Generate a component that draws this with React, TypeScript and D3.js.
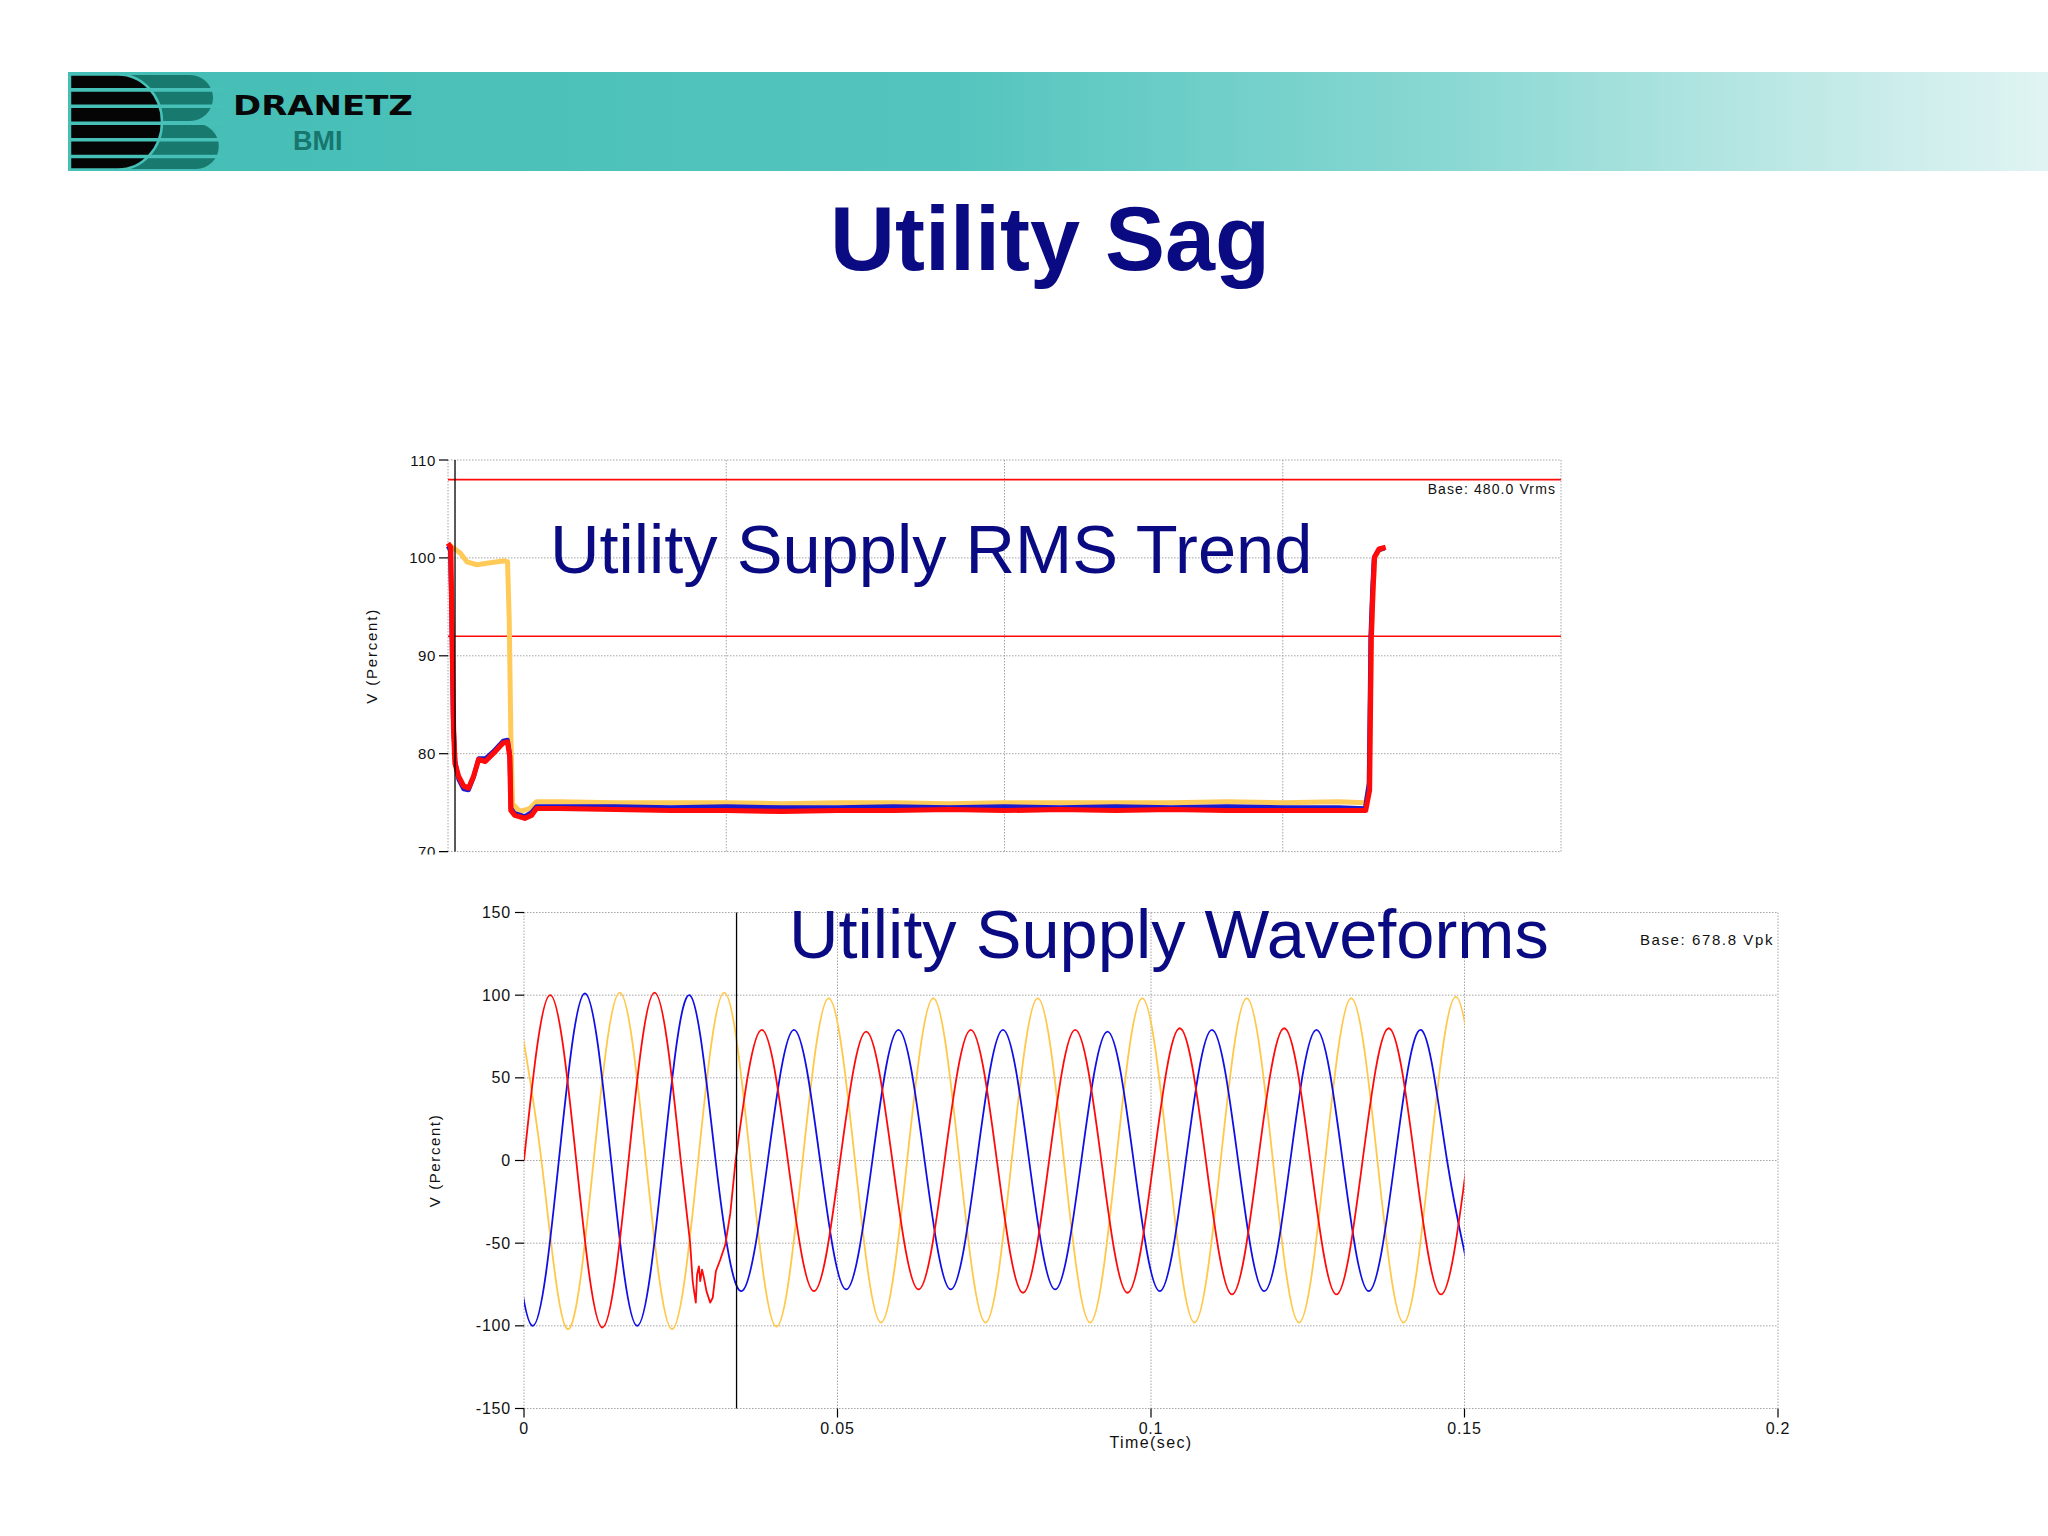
import React from 'react';
import * as d3 from 'd3';

type Pt = [number, number];

// ---------------- Slide texts ----------------
const slideTitle = 'Utility Sag';
const rmsOverlay = 'Utility Supply RMS Trend';
const waveOverlay = 'Utility Supply Waveforms';
const brandName = 'DRANETZ';
const brandSub = 'BMI';

// ---------------- RMS trend (percent of 480 Vrms) ----------------
const rmsYTicks = [70, 80, 90, 100, 110];
const rmsXGrid = [0, 0.05, 0.1, 0.15, 0.2];
const rmsLimitLines = [108, 92];
const rmsCursorT = 0.00126;
const rmsBaseLabel = 'Base: 480.0 Vrms';
const rmsYLabel = 'V (Percent)';

const rmsYellow: Pt[] = [
  [0, 101.4], [0.001, 101.0], [0.0022, 100.5], [0.0034, 99.6], [0.0052, 99.3], [0.0076, 99.5],
  [0.0102, 99.7], [0.0107, 99.6], [0.011, 93.7], [0.0113, 81.7], [0.0116, 74.9], [0.0129, 74.1],
  [0.0147, 74.4], [0.0159, 75.1], [0.02, 75.1], [0.03, 75.0], [0.04, 75.0], [0.05, 75.0],
  [0.06, 74.9], [0.07, 75.0], [0.08, 75.0], [0.09, 74.9], [0.1, 75.0], [0.11, 75.0], [0.12, 75.0],
  [0.13, 75.0], [0.14, 75.1], [0.15, 75.0], [0.16, 75.1], [0.1649, 75.0], [0.1655, 76.5],
  [0.1659, 91.5], [0.1662, 96.4], [0.1665, 100.0], [0.1673, 100.8], [0.1683, 101.0],
];

const rmsBlue: Pt[] = [
  [0, 101.2], [0.0004, 100.8], [0.0006, 96.0], [0.0009, 84.0], [0.00126, 79.3], [0.0019, 77.4],
  [0.0028, 76.4], [0.0037, 76.3], [0.0046, 77.6], [0.0055, 79.5], [0.0067, 79.5], [0.0081, 80.2],
  [0.0099, 81.3], [0.0107, 81.4], [0.0111, 79.9], [0.0113, 74.4], [0.012, 73.9], [0.0138, 73.6],
  [0.015, 74.0], [0.0159, 74.6], [0.02, 74.6], [0.03, 74.6], [0.04, 74.5], [0.05, 74.6], [0.06, 74.5],
  [0.07, 74.5], [0.08, 74.6], [0.09, 74.5], [0.1, 74.6], [0.11, 74.5], [0.12, 74.6], [0.13, 74.5],
  [0.14, 74.6], [0.15, 74.5], [0.16, 74.5], [0.1648, 74.4], [0.1655, 77.0], [0.1658, 92.0],
  [0.1661, 96.6], [0.1664, 100.0], [0.1672, 100.8], [0.1683, 101.0],
];

const rmsRed: Pt[] = [
  [0, 101.5], [0.0005, 101.1], [0.0007, 93.7], [0.001, 82.4], [0.00126, 79.0], [0.0019, 77.7],
  [0.0028, 76.7], [0.0037, 76.5], [0.0046, 77.7], [0.0055, 79.4], [0.0067, 79.2], [0.0081, 80.0],
  [0.0099, 81.1], [0.0107, 81.2], [0.0111, 79.7], [0.0113, 74.2], [0.012, 73.7], [0.0138, 73.4],
  [0.015, 73.7], [0.0159, 74.4], [0.02, 74.4], [0.03, 74.3], [0.04, 74.2], [0.05, 74.2], [0.06, 74.1],
  [0.07, 74.2], [0.08, 74.2], [0.09, 74.3], [0.1, 74.2], [0.11, 74.3], [0.12, 74.2], [0.13, 74.3],
  [0.14, 74.2], [0.15, 74.2], [0.16, 74.2], [0.1649, 74.2], [0.1656, 76.3], [0.1659, 91.7],
  [0.1662, 96.5], [0.1665, 100.1], [0.1673, 100.9], [0.1685, 101.1],
];

// ---------------- Waveforms (percent of 678.8 Vpk) ----------------
const waveYTicks = [-150, -100, -50, 0, 50, 100, 150];
const waveXTicks = [0, 0.05, 0.1, 0.15, 0.2];
const waveXTickLabels = ['0', '0.05', '0.1', '0.15', '0.2'];
const waveEndT = 0.15;
const waveCursorT = 0.0339;
const waveBaseLabel = 'Base: 678.8 Vpk';
const waveXLabel = 'Time(sec)';
const waveYLabel = 'V (Percent)';

// red phase: before the sag, noisy sag onset, and during the sag
const waveRedPre: Pt[] = [
  [0, 0], [0.00417, 100], [0.00833, 0], [0.0125, -101], [0.01667, 0], [0.02083, 101.5], [0.025, 0],
];
const waveRedOnset: Pt[] = [
  [0.025, 0], [0.0265, -50], [0.0269, -73], [0.0272, -81], [0.0274, -86], [0.0276, -69],
  [0.0279, -64], [0.0281, -73], [0.0284, -66], [0.0287, -71], [0.0291, -79], [0.0297, -86],
  [0.0301, -83], [0.0306, -67], [0.0313, -60], [0.0321, -51], [0.0329, -32], [0.03375, 0],
];
const waveRedPost: Pt[] = [
  [0.03375, 0], [0.03792, 79], [0.04208, 0], [0.04625, -79], [0.05042, 0], [0.05458, 78],
  [0.05875, 0], [0.06292, -78], [0.06708, 0], [0.07125, 79], [0.07542, 0], [0.07958, -80],
  [0.08375, 0], [0.08792, 79], [0.09208, 0], [0.09625, -80], [0.10042, 0], [0.10458, 80],
  [0.10875, 0], [0.11292, -81], [0.11708, 0], [0.12125, 80], [0.12542, 0], [0.12958, -81],
  [0.13375, 0], [0.13792, 80], [0.14208, 0], [0.14625, -81], [0.15042, 0],
];
const waveBlue: Pt[] = [
  [-0.00278, 0], [0.00139, -100], [0.00556, 0], [0.00972, 101], [0.01389, 0], [0.01806, -100],
  [0.02222, 0], [0.02639, 100], [0.03056, 0], [0.03472, -79], [0.03889, 0], [0.04306, 79],
  [0.04722, 0], [0.05139, -78], [0.05556, 0], [0.05972, 79], [0.06389, 0], [0.06806, -78],
  [0.07222, 0], [0.07639, 79], [0.08056, 0], [0.08472, -78], [0.08889, 0], [0.09306, 78],
  [0.09722, 0], [0.10139, -79], [0.10556, 0], [0.10972, 79], [0.11389, 0], [0.11806, -79],
  [0.12222, 0], [0.12639, 79], [0.13056, 0], [0.13472, -79], [0.13889, 0], [0.14306, 79],
  [0.14722, 0], [0.15139, -79],
];
const waveYellow: Pt[] = [
  [-0.00139, 101], [0.00278, 0], [0.00694, -102], [0.01111, 0], [0.01528, 101.5], [0.01944, 0],
  [0.02361, -102], [0.02778, 0], [0.03194, 101.5], [0.03611, 0], [0.04028, -100.5], [0.04444, 0],
  [0.04861, 98], [0.05278, 0], [0.05694, -98], [0.06111, 0], [0.06528, 98], [0.06944, 0],
  [0.07361, -98], [0.07778, 0], [0.08194, 98], [0.08611, 0], [0.09028, -98], [0.09444, 0],
  [0.09861, 98], [0.10278, 0], [0.10694, -98], [0.11111, 0], [0.11528, 98], [0.11944, 0],
  [0.12361, -98], [0.12778, 0], [0.13194, 98], [0.13611, 0], [0.14028, -98], [0.14444, 0],
  [0.14861, 99], [0.15278, 0],
];

const NAVY = '#0a0a82';
const RED = '#ff0a0a';
const BLUE = '#1010e6';
const YELLOW = '#ffc84a';
const GRID = '#a4a4a4';
const SANS = '"Liberation Sans", Arial, sans-serif';

export default function App() {
  const xTop = d3.scaleLinear().domain([0, 0.2]).range([448, 1561]);
  const yTop = d3.scaleLinear().domain([70, 110]).range([851.6, 460]);
  const xBot = d3.scaleLinear().domain([0, 0.2]).range([524, 1778]);
  const yBot = d3.scaleLinear().domain([-150, 150]).range([1408.5, 912.5]);

  const rmsLine = d3.line<Pt>().x((d) => xTop(d[0])).y((d) => yTop(d[1]));
  const waveSmooth = d3.line<Pt>().x((d) => xBot(d[0])).y((d) => yBot(d[1])).curve(d3.curveNatural);
  const waveLinear = d3.line<Pt>().x((d) => xBot(d[0])).y((d) => yBot(d[1]));

  const [tx0, tx1] = xTop.range();
  const [ty0, ty1] = [yTop(110), yTop(70)];
  const [bx0, bx1] = xBot.range();
  const [by0, by1] = [yBot(150), yBot(-150)];

  const bandColor = '#47c0b8';
  const stripeGaps = [89.9, 106.3, 123.2, 139.8, 156.5];

  return (
    <svg width={2048} height={1536} style={{ position: 'absolute', left: 0, top: 0, background: '#fff' }}>
      <defs>
        <linearGradient id="band" x1="0" x2="1" y1="0" y2="0">
          <stop offset="0" stopColor="#43bdb5" />
          <stop offset="0.45" stopColor="#54c5be" />
          <stop offset="0.7" stopColor="#8ad8d3" />
          <stop offset="0.88" stopColor="#bfe9e6" />
          <stop offset="1" stopColor="#e0f4f3" />
        </linearGradient>
        <clipPath id="topClip">
          <rect x={0} y={0} width={2048} height={854.5} />
        </clipPath>
        <clipPath id="waveClip">
          <rect x={xBot(0)} y={by0 - 10} width={xBot(waveEndT) - xBot(0)} height={by1 - by0 + 20} />
        </clipPath>
      </defs>
      <rect x={0} y={0} width={2048} height={1536} fill="#ffffff" />

      {/* header band + logo */}
      <rect x={68} y={72} width={1980} height={99} fill="url(#band)" />
      <path d="M100,75 H190 A23,23 0 0 1 190,121 H100 Z" fill="#18796f" />
      <path d="M100,123.5 H196 A22.75,22.75 0 0 1 196,169 H100 Z" fill="#18796f" />
      <path d="M70,74.5 H118 A44,47.5 0 0 1 118,169.5 H70 Z" fill="#050505" stroke={bandColor} strokeWidth={2.5} />
      {stripeGaps.map((g) => (
        <line key={g} x1={68} x2={224} y1={g} y2={g} stroke={bandColor} strokeWidth={3.6} />
      ))}
      <text x={233} y={115} fontFamily='"DejaVu Sans", sans-serif' fontWeight={900} fontSize={27}
        textLength={180} lengthAdjust="spacingAndGlyphs" fill="#080808">{brandName}</text>
      <text x={293} y={149.5} fontFamily={SANS} fontWeight="bold" fontSize={27} fill="#17766e">{brandSub}</text>

      {/* slide title */}
      <text x={1050} y={270} textAnchor="middle" fontFamily={SANS} fontWeight="bold" fontSize={90} fill={NAVY}>
        {slideTitle}
      </text>

      {/* ---------- RMS trend chart ---------- */}
      <g clipPath="url(#topClip)">
        {rmsYTicks.map((v) => (
          <line key={'rh' + v} x1={tx0} x2={tx1} y1={yTop(v)} y2={yTop(v)} stroke={GRID} strokeWidth={1} strokeDasharray="1.5 1.5" />
        ))}
        {rmsXGrid.map((t) => (
          <line key={'rv' + t} x1={xTop(t)} x2={xTop(t)} y1={ty0} y2={ty1} stroke={GRID} strokeWidth={1} strokeDasharray="1.5 1.5" />
        ))}
        {rmsLimitLines.map((v) => (
          <line key={'lim' + v} x1={tx0} x2={tx1} y1={yTop(v)} y2={yTop(v)} stroke={RED} strokeWidth={1.6} />
        ))}
        {rmsYTicks.map((v) => (
          <g key={'rt' + v}>
            <line x1={tx0 - 9} x2={tx0} y1={yTop(v)} y2={yTop(v)} stroke="#000" strokeWidth={1.2} />
            <text x={tx0 - 12} y={yTop(v) + 5.5} textAnchor="end" fontFamily={SANS} fontSize={15}
              letterSpacing={0.6} fill="#111">{v}</text>
          </g>
        ))}
        <path d={rmsLine(rmsYellow) || ''} fill="none" stroke="#ffca58" strokeWidth={5} strokeLinejoin="round" />
        <path d={rmsLine(rmsBlue) || ''} fill="none" stroke="#1a1ad0" strokeWidth={4.5} strokeLinejoin="round" />
        <path d={rmsLine(rmsRed) || ''} fill="none" stroke={RED} strokeWidth={5.2} strokeLinejoin="round" />
        <line x1={xTop(rmsCursorT)} x2={xTop(rmsCursorT)} y1={ty0} y2={ty1} stroke="#000" strokeWidth={1.3} />
        <text x={1556} y={494} textAnchor="end" fontFamily={SANS} fontSize={14} letterSpacing={1.1} fill="#111">
          {rmsBaseLabel}
        </text>
        <text transform={`translate(377, ${(ty0 + ty1) / 2}) rotate(-90)`} textAnchor="middle" fontFamily={SANS}
          fontSize={15} letterSpacing={1.8} fill="#111">{rmsYLabel}</text>
      </g>
      <text x={550} y={573} fontFamily={SANS} fontSize={68.6} fill={NAVY}>{rmsOverlay}</text>

      {/* ---------- Waveform chart ---------- */}
      <g>
        {waveYTicks.map((v) => (
          <line key={'wh' + v} x1={bx0} x2={bx1} y1={yBot(v)} y2={yBot(v)} stroke={GRID} strokeWidth={1} strokeDasharray="1.5 1.5" />
        ))}
        {waveXTicks.map((t) => (
          <line key={'wv' + t} x1={xBot(t)} x2={xBot(t)} y1={by0} y2={by1} stroke={GRID} strokeWidth={1} strokeDasharray="1.5 1.5" />
        ))}
        {waveYTicks.map((v) => (
          <g key={'wt' + v}>
            <line x1={bx0 - 9} x2={bx0} y1={yBot(v)} y2={yBot(v)} stroke="#000" strokeWidth={1.2} />
            <text x={bx0 - 13} y={yBot(v) + 5.5} textAnchor="end" fontFamily={SANS} fontSize={16}
              letterSpacing={0.8} fill="#111">{v}</text>
          </g>
        ))}
        {waveXTicks.map((t, i) => (
          <g key={'wx' + t}>
            <line x1={xBot(t)} x2={xBot(t)} y1={by1} y2={by1 + 9} stroke="#000" strokeWidth={1.2} />
            <text x={xBot(t)} y={1434} textAnchor="middle" fontFamily={SANS} fontSize={16} letterSpacing={0.8}
              fill="#111">{waveXTickLabels[i]}</text>
          </g>
        ))}
        <text x={xBot(0.1)} y={1448} textAnchor="middle" fontFamily={SANS} fontSize={16} letterSpacing={1.4}
          fill="#111">{waveXLabel}</text>
        <text transform={`translate(440, ${(by0 + by1) / 2}) rotate(-90)`} textAnchor="middle" fontFamily={SANS}
          fontSize={15} letterSpacing={1.6} fill="#111">{waveYLabel}</text>
        <text x={1774} y={945} textAnchor="end" fontFamily={SANS} fontSize={15} letterSpacing={1.6} fill="#111">
          {waveBaseLabel}
        </text>
        <g clipPath="url(#waveClip)" fill="none" strokeWidth={1.8} strokeLinejoin="round">
          <path d={waveSmooth(waveYellow) || ''} stroke={YELLOW} />
          <path d={waveSmooth(waveBlue) || ''} stroke={BLUE} />
          <path d={waveSmooth(waveRedPre) || ''} stroke={RED} />
          <path d={waveLinear(waveRedOnset) || ''} stroke={RED} />
          <path d={waveSmooth(waveRedPost) || ''} stroke={RED} />
        </g>
        <line x1={xBot(waveCursorT)} x2={xBot(waveCursorT)} y1={by0} y2={by1} stroke="#000" strokeWidth={1.3} />
      </g>
      <text x={789} y={958} fontFamily={SANS} fontSize={68.6} fill={NAVY}>{waveOverlay}</text>
    </svg>
  );
}
